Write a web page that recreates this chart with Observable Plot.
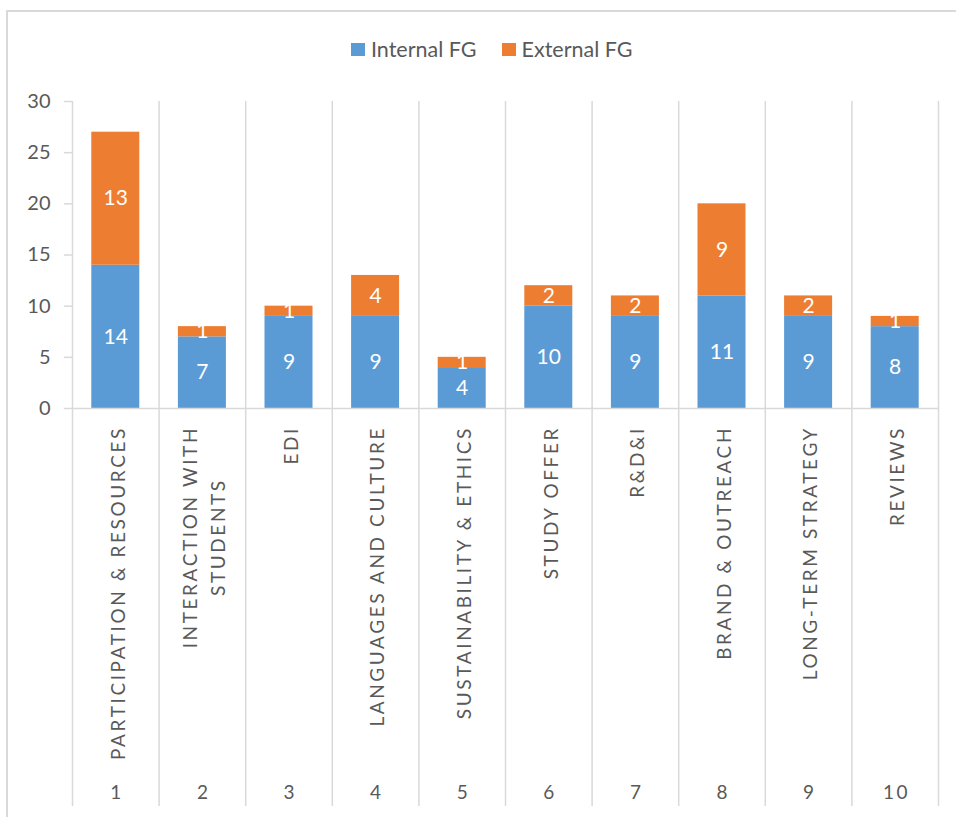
<!DOCTYPE html>
<html>
<head>
<meta charset="utf-8">
<script src="https://cdn.jsdelivr.net/npm/d3@7"></script>
<script src="https://cdn.jsdelivr.net/npm/@observablehq/plot@0.6"></script>
<style>
  html, body { margin: 0; padding: 0; overflow: hidden; background: #fff; width: 956px; height: 817px; }
  #frame { position: absolute; left: 6px; top: 10px; width: 1000px; height: 900px; border: 2px solid #d9d9d9; box-sizing: border-box; }
  #legend { position: absolute; left: 351px; top: 36px; display: flex; align-items: center; font-family: Lato, sans-serif; font-size: 21.5px; color: #595959; white-space: nowrap; }
  .item { display: flex; align-items: center; }
  .item + .item { margin-left: 25px; }
  .key { width: 14px; height: 13px; display: inline-block; margin-right: 6px; }
  #chart { position: absolute; left: 0; top: 0; }
  g[aria-description="category-label"] text, g[aria-description="category-number"] text { letter-spacing: 2.6px; }
</style>
</head>
<body>
<div id="frame"></div>
<div id="legend"></div>
<div id="chart"></div>
<script>
// ---- data ----
const categories = [
  "PARTICIPATION & RESOURCES",
  "INTERACTION WITH\nSTUDENTS",
  "EDI",
  "LANGUAGES AND CULTURE",
  "SUSTAINABILITY & ETHICS",
  "STUDY OFFER",
  "R&D&I",
  "BRAND & OUTREACH",
  "LONG-TERM STRATEGY",
  "REVIEWS"
];
const categoryNumbers = ["1", "2", "3", "4", "5", "6", "7", "8", "9", "10"];
const series = ["Internal FG", "External FG"];
const internalFG = [14, 7, 9, 9, 4, 10, 9, 11, 9, 8];
const externalFG = [13, 1, 1, 4, 1, 2, 2, 9, 2, 1];
const yTicks = [0, 5, 10, 15, 20, 25, 30];
const colors = ["#5B9BD5", "#ED7D31"];

// ---- table ----
const table = [];
categoryNumbers.forEach((n, i) => table.push({num: n, series: series[0], value: internalFG[i]}));
categoryNumbers.forEach((n, i) => table.push({num: n, series: series[1], value: externalFG[i]}));

// ---- legend ----
const legend = document.getElementById("legend");
series.forEach((s, i) => {
  const it = document.createElement("span");
  it.className = "item";
  const k = document.createElement("span");
  k.className = "key";
  k.style.background = colors[i];
  const t = document.createElement("span");
  t.textContent = s;
  it.appendChild(k); it.appendChild(t);
  legend.appendChild(it);
});

// ---- layout / styles ----
const W = 956, H = 817;
const mL = 72, mR = 18, mT = 101, mB = 409;
const step = (W - mL - mR) / categoryNumbers.length;
const barInset = (step - 48) / 2;
const gray = "#595959", lineGray = "#d9d9d9";
const labelFont = 19, labelSpacing = 2.6, labelTop = 17.5, labelLineHeight = 1.45;

// measure category label lengths (to center multi-line labels like Excel)
function measure(str) {
  const svg = document.createElementNS("http://www.w3.org/2000/svg", "svg");
  svg.setAttribute("style", "position:absolute;left:-9999px;top:0");
  const t = document.createElementNS("http://www.w3.org/2000/svg", "text");
  t.setAttribute("style", `font-family:Lato;font-size:${labelFont}px;letter-spacing:${labelSpacing}px`);
  t.textContent = str;
  svg.appendChild(t);
  document.body.appendChild(svg);
  const L = t.getComputedTextLength();
  svg.remove();
  return L - labelSpacing;
}
const labelLengths = categories.map(c => Math.max(...c.split("\n").map(measure)));

const categoryMarks = categories.map((c, i) =>
  Plot.text([c], {
    x: () => categoryNumbers[i],
    text: d => d,
    frameAnchor: "bottom",
    rotate: -90,
    textAnchor: "middle",
    lineAnchor: "middle",
    lineHeight: labelLineHeight,
    dy: labelTop + labelLengths[i] / 2 + labelSpacing / 2,
    fontSize: labelFont,
    fill: gray,
    ariaDescription: "category-label"
  })
);

const chart = Plot.plot({
  width: W,
  height: H,
  marginLeft: mL,
  marginRight: mR,
  marginTop: mT,
  marginBottom: mB,
  style: {fontFamily: "Lato, sans-serif", background: "transparent", overflow: "visible"},
  x: {domain: categoryNumbers, padding: 0, round: false, axis: null},
  y: {domain: [0, 30], axis: null},
  color: {domain: series, range: colors},
  marks: [
    // category separators (extend down through label area)
    Plot.ruleX(categoryNumbers, {x: d => d, dx: -step / 2, stroke: lineGray, strokeWidth: 1.5, insetBottom: -398}),
    Plot.ruleX([categoryNumbers[categoryNumbers.length - 1]], {x: d => d, dx: step / 2, stroke: lineGray, strokeWidth: 1.5, insetBottom: -398}),
    Plot.axisY(yTicks, {tickSize: 8, tickPadding: 14, stroke: lineGray, strokeWidth: 1.5, fill: gray, fontSize: 20, label: null}),
    Plot.barY(table, {x: "num", y: "value", fill: "series", insetLeft: barInset, insetRight: barInset}),
    Plot.ruleY([0], {stroke: lineGray, strokeWidth: 1.5}),
    Plot.text(table, Plot.stackY({x: "num", y: "value", text: d => String(d.value), fill: "white", fontSize: 21})),
    ...categoryMarks,
    Plot.text(categoryNumbers, {x: d => d, text: d => d, frameAnchor: "bottom", dy: 390, dx: 1.3, fontSize: 19, fill: gray, ariaDescription: "category-number"})
  ]
});
document.getElementById("chart").appendChild(chart);
</script>
</body>
</html>
